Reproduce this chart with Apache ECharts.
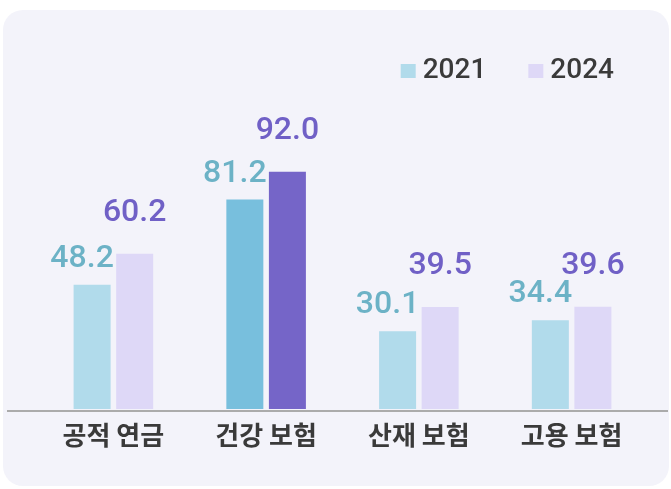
<!DOCTYPE html>
<html lang="ko">
<head>
<meta charset="UTF-8">
<title>사회보험</title>
<script src="https://cdn.jsdelivr.net/npm/echarts@6/dist/echarts.min.js"></script>
<style>
  html, body { margin: 0; padding: 0; background: #fff; }
</style>
</head>
<body>
<div id="main" style="width: 671px;height:489px;"></div>
<script type="text/javascript">
// data
const categories = ['공적 연금', '건강 보험', '산재 보험', '고용 보험'];
const values2021 = [48.2, 81.2, 30.1, 34.4];
const values2024 = [60.2, 92.0, 39.5, 39.6];
const highlightIndex = 1; // 건강 보험 bars are drawn darker

const light2021 = '#b1dbeb', dark2021 = '#78bfdd';
const light2024 = '#ded8f7', dark2024 = '#7565c8';

function toItems(values, light, dark) {
  return values.map((v, i) => ({
    value: v,
    itemStyle: { color: i === highlightIndex ? dark : light }
  }));
}

let myChart = echarts.init(document.getElementById('main'));

let options = {
  backgroundColor: '#ffffff',
  animation: false,
  graphic: [
    {
      type: 'rect', z: -10,
      shape: { x: 3, y: 10, width: 666, height: 476, r: 20 },
      style: { fill: '#f3f3fa' }
    },
    {
      type: 'line', z: 10,
      shape: { x1: 7, y1: 411, x2: 668, y2: 411 },
      style: { stroke: '#ababab', lineWidth: 2 }
    }
  ],
  legend: {
    data: ['2021', '2024'],
    right: 52,
    top: 52,
    itemWidth: 15,
    itemHeight: 14,
    itemGap: 42,
    icon: 'rect',
    textStyle: {
      fontFamily: 'Roboto, sans-serif',
      fontWeight: 500,
      fontSize: 28,
      color: '#3a3a3a',
      padding: [0, 0, 0, 2]
    }
  },
  grid: { left: 37, right: 23, top: 151, bottom: 80 },
  xAxis: {
    type: 'category',
    data: categories,
    axisLine: { show: false },
    axisTick: { show: false },
    axisLabel: {
      margin: 13,
      fontFamily: '"Noto Sans CJK KR", sans-serif',
      fontWeight: 'bold',
      fontSize: 26,
      color: '#3a3a3a'
    }
  },
  yAxis: {
    type: 'value',
    min: 0,
    max: 100,
    show: false
  },
  series: [
    {
      name: '2021',
      type: 'bar',
      barWidth: 37,
      barGap: '15%',
      color: light2021,
      data: toItems(values2021, light2021, dark2021),
      label: {
        show: true,
        position: 'top',
        distance: 10,
        offset: [-10, 0],
        formatter: p => p.value.toFixed(1),
        fontFamily: 'Roboto, sans-serif',
        fontWeight: 500,
        fontSize: 32,
        color: '#6cb2c6'
      }
    },
    {
      name: '2024',
      type: 'bar',
      barWidth: 37,
      color: light2024,
      data: toItems(values2024, light2024, dark2024),
      label: {
        show: true,
        position: 'top',
        distance: 25,
        formatter: p => p.value.toFixed(1),
        fontFamily: 'Roboto, sans-serif',
        fontWeight: 500,
        fontSize: 32,
        color: '#7060c6'
      }
    }
  ]
};

myChart.setOption(options);
</script>
</body>
</html>
